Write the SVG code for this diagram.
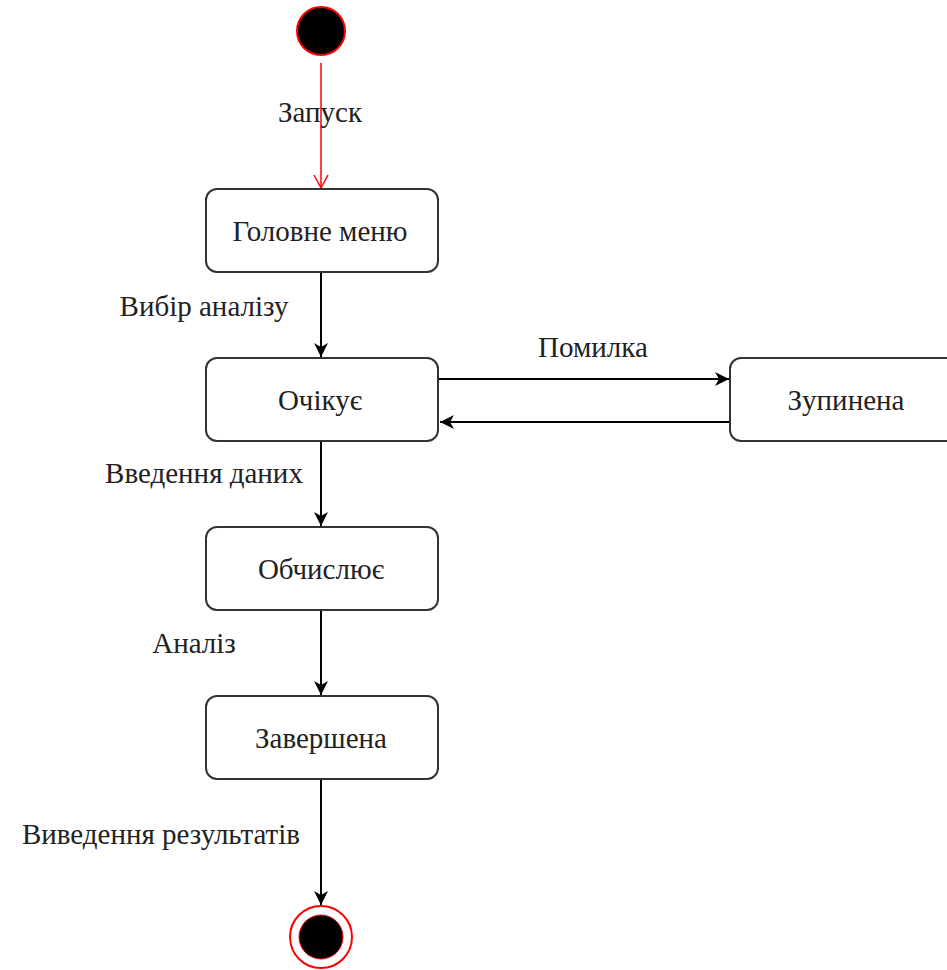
<svg xmlns="http://www.w3.org/2000/svg" width="947" height="970" viewBox="0 0 947 970">
<style>
.box{fill:#fff;stroke:#333;stroke-width:2}
.t{font-family:"Liberation Serif","Times New Roman",serif;font-size:29px;fill:#222;text-anchor:middle}
.e{stroke:#000;stroke-width:2;fill:none}
</style>
<defs>
<marker id="arr" viewBox="0 0 16 16" refX="15" refY="8" markerWidth="16" markerHeight="16" markerUnits="userSpaceOnUse" orient="auto">
<path d="M1,1 L15,8 L1,15 L5,8 Z" fill="#000"/>
</marker>
<marker id="open" viewBox="0 0 16 16" refX="14" refY="8" markerWidth="16" markerHeight="16" markerUnits="userSpaceOnUse" orient="auto">
<path d="M1,1 L14,8 L1,15" fill="none" stroke="#f00" stroke-width="1.5"/>
</marker>
</defs>
<g id="connectors">
<line x1="321" y1="63" x2="321" y2="188" stroke="#f00" stroke-width="1.5" marker-end="url(#open)"/>
<line class="e" x1="321" y1="272" x2="321" y2="357" marker-end="url(#arr)"/>
<line class="e" x1="438" y1="379" x2="729" y2="379" marker-end="url(#arr)"/>
<line class="e" x1="730" y1="422" x2="440" y2="422" marker-end="url(#arr)"/>
<line class="e" x1="321" y1="441" x2="321" y2="526" marker-end="url(#arr)"/>
<line class="e" x1="321" y1="610" x2="321" y2="695" marker-end="url(#arr)"/>
<line class="e" x1="321" y1="779" x2="321" y2="905" marker-end="url(#arr)"/>
<text class="t" x="320" y="122">Запуск</text>
<text class="t" x="204" y="316">Вибір аналізу</text>
<text class="t" x="593" y="357">Помилка</text>
<text class="t" x="204" y="483">Введення даних</text>
<text class="t" x="194" y="653">Аналіз</text>
<text class="t" x="161" y="844">Виведення результатів</text>
</g>
<g id="start"><circle cx="321" cy="31" r="24" fill="#000" stroke="#f00" stroke-width="2"/></g>
<g id="menu"><rect class="box" x="206" y="189" width="232" height="83" rx="11"/><text class="t" x="320" y="241">Головне меню</text></g>
<g id="waiting"><rect class="box" x="206" y="358" width="232" height="83" rx="11"/><text class="t" x="320" y="410">Очікує</text></g>
<g id="stopped"><rect class="box" x="730" y="358" width="232" height="83" rx="11"/><text class="t" x="846" y="410">Зупинена</text></g>
<g id="computing"><rect class="box" x="206" y="527" width="232" height="83" rx="11"/><text class="t" x="321" y="579">Обчислює</text></g>
<g id="done"><rect class="box" x="206" y="696" width="232" height="83" rx="11"/><text class="t" x="321" y="748">Завершена</text></g>
<g id="end"><circle cx="321" cy="937" r="31" fill="#fff" stroke="#f00" stroke-width="2"/><circle cx="321" cy="937" r="22" fill="#000" stroke="#f00" stroke-width="1"/></g>
</svg>
